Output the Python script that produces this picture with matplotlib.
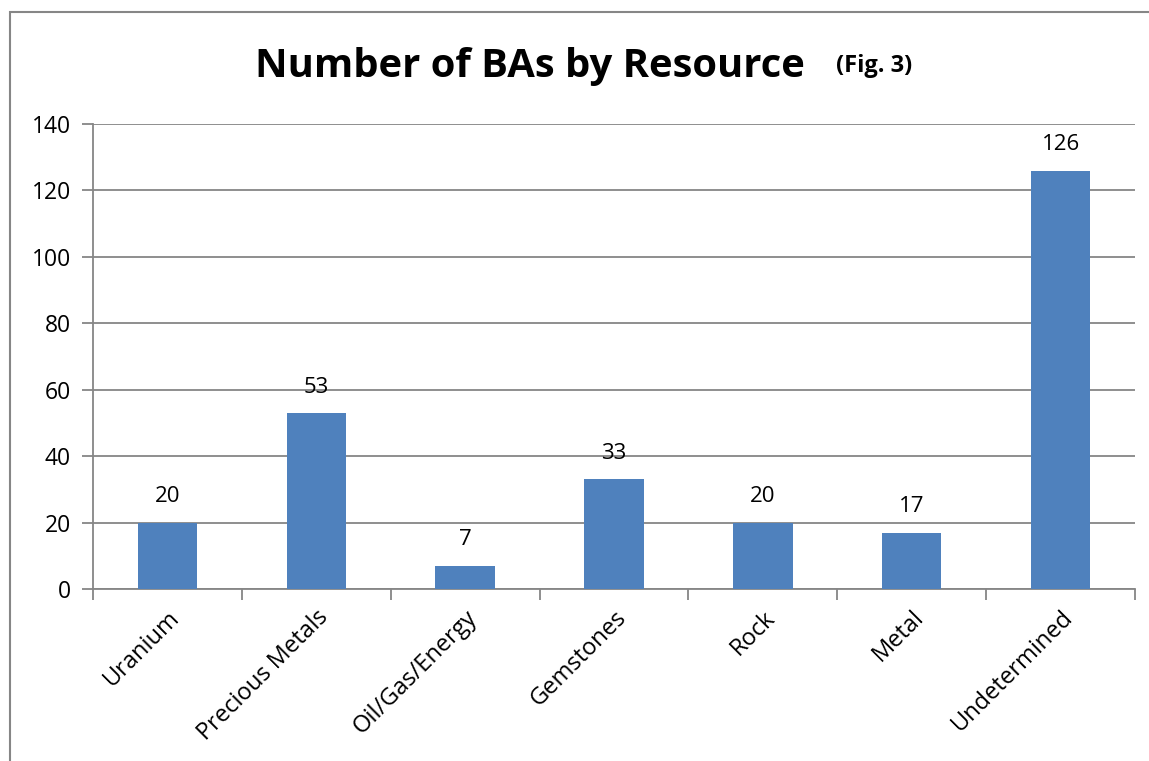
import matplotlib.pyplot as plt
from matplotlib.patches import Rectangle

# ---------------- DATA ----------------

categories = ["Uranium", "Precious Metals", "Oil/Gas/Energy", "Gemstones",
              "Rock", "Metal", "Undetermined"]
counts = [20, 53, 7, 33, 20, 17, 126]
y_ticks = [0, 20, 40, 60, 80, 100, 120, 140]

BAR_COLOR = "#4F81BD"
GRID_COLOR = "#868686"

plt.rcParams["font.family"] = ["Open Sans", "DejaVu Sans"]

W, H = 1149, 761
fig = plt.figure(figsize=(W / 100, H / 100), dpi=100)
ax = fig.add_axes([93 / W, 1 - 589 / H, (1135 - 93) / W, (589 - 124) / H])

x = list(range(len(categories)))
ax.bar(x, counts, width=0.4, color=BAR_COLOR, zorder=3)

for xi, v in zip(x, counts):
    ax.annotate(str(v), (xi, v), xytext=(0, 11), textcoords="offset points",
                ha="center", va="bottom", fontsize=16)

ax.set_xlim(-0.5, len(categories) - 0.5)
ax.set_ylim(0, 140)
ax.set_yticks(y_ticks)
ax.set_yticklabels([str(t) for t in y_ticks], fontsize=16.5)
ax.yaxis.grid(True, color=GRID_COLOR, linewidth=1.3, zorder=0)

# ticks between categories, labels at centres
ax.set_xticks([i - 0.5 for i in range(len(categories) + 1)])
ax.set_xticklabels([])
ax.set_xticks(x, minor=True)
ax.set_xticklabels(categories, minor=True, rotation=45, ha="right",
                   rotation_mode="anchor", fontsize=17)
ax.tick_params(axis="x", which="minor", length=0, pad=12)
ax.tick_params(axis="x", which="major", length=8, color=GRID_COLOR, width=1.3)
ax.tick_params(axis="y", length=8, color=GRID_COLOR, width=1.3, pad=8)

for side in ["top", "right"]:
    ax.spines[side].set_visible(False)
for side in ["left", "bottom"]:
    ax.spines[side].set_color(GRID_COLOR)
    ax.spines[side].set_linewidth(1.3)

# ---------------- TITLE ----------------

fig.text(530 / W, 1 - 77 / H, "Number of BAs by Resource", ha="center",
         va="baseline", fontsize=28.8, fontweight="bold")
fig.text(836 / W, 1 - 72 / H, "(Fig. 3)", ha="left", va="baseline",
         fontsize=17, fontweight="bold")

# outer chart border (runs off the right and bottom edges)
fig.patches.append(Rectangle((10 / W, -0.1), 1.2, 1 - 12 / H + 0.1,
                             transform=fig.transFigure, fill=False,
                             edgecolor=GRID_COLOR, linewidth=1.5))

fig.savefig("out.png", dpi=100)
